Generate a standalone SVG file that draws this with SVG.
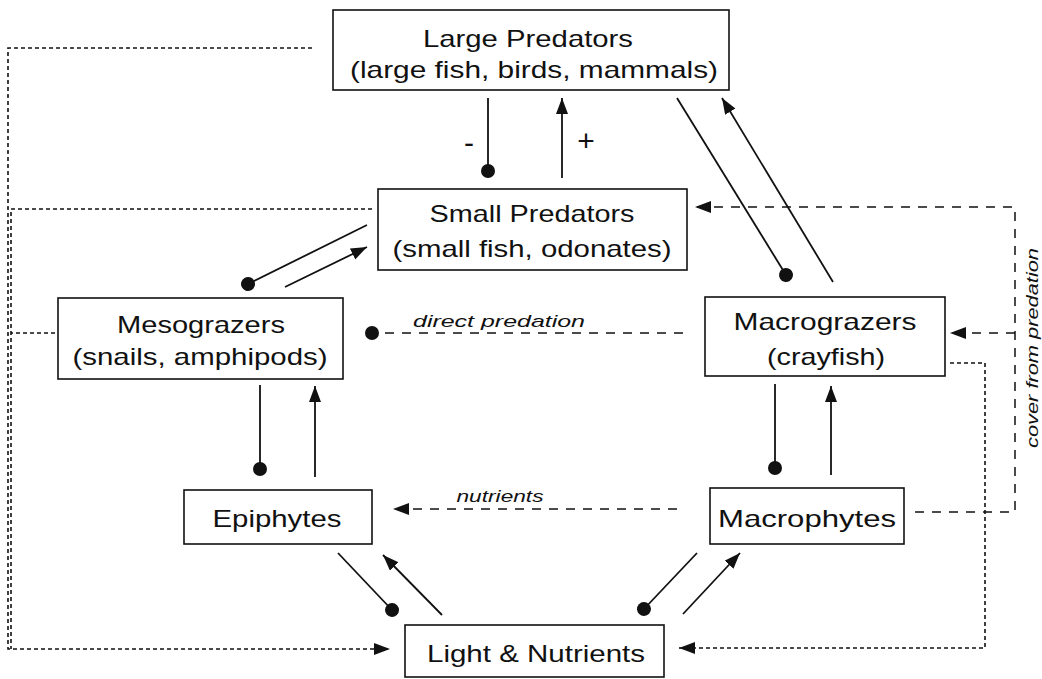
<svg xmlns="http://www.w3.org/2000/svg" width="1042" height="679" viewBox="0 0 1042 679">
<style>
.box{fill:#fff;stroke:#111;stroke-width:1.6}
.t{font-family:"Liberation Sans",Arial,sans-serif;font-size:24px;fill:#111;text-anchor:middle}
.pm{font-family:"Liberation Sans",Arial,sans-serif;font-size:30px;fill:#111;text-anchor:middle}
.it{font-family:"Liberation Sans",Arial,sans-serif;font-size:17px;font-style:italic;fill:#111;text-anchor:middle}
.s{fill:none;stroke:#111;stroke-width:1.8}
.d{fill:none;stroke:#111;stroke-width:1.5;stroke-dasharray:9 8}
.o{fill:none;stroke:#111;stroke-width:1.6;stroke-dasharray:4 3}
</style>
<defs>
<marker id="arr" markerUnits="userSpaceOnUse" markerWidth="18" markerHeight="14" refX="16" refY="6" orient="auto">
<path d="M0,0 L16,6 L0,12 Z" fill="#111"/>
</marker>
<marker id="dot" markerUnits="userSpaceOnUse" markerWidth="16" markerHeight="16" refX="8" refY="8" orient="auto">
<circle cx="8" cy="8" r="7" fill="#111"/>
</marker>
</defs>
<rect width="1042" height="679" fill="#fff"/>
<g id="connectors">
<line class="s" x1="488" y1="98" x2="488" y2="171" marker-end="url(#dot)"/>
<line class="s" x1="562" y1="178" x2="562" y2="98" marker-end="url(#arr)"/>
<line class="s" x1="677" y1="98" x2="786" y2="275" marker-end="url(#dot)"/>
<line class="s" x1="833" y1="282" x2="722" y2="98" marker-end="url(#arr)"/>
<line class="s" x1="367" y1="225" x2="248" y2="284" marker-end="url(#dot)"/>
<line class="s" x1="285" y1="287" x2="367" y2="247" marker-end="url(#arr)"/>
<line class="s" x1="260" y1="385" x2="260" y2="469" marker-end="url(#dot)"/>
<line class="s" x1="315" y1="477" x2="315" y2="386" marker-end="url(#arr)"/>
<line class="s" x1="775" y1="384" x2="775" y2="468" marker-end="url(#dot)"/>
<line class="s" x1="831" y1="475" x2="831" y2="386" marker-end="url(#arr)"/>
<line class="s" x1="338" y1="553" x2="392" y2="610" marker-end="url(#dot)"/>
<line class="s" x1="442" y1="615" x2="383" y2="555" marker-end="url(#arr)"/>
<line class="s" x1="697" y1="553" x2="644" y2="609" marker-end="url(#dot)"/>
<line class="s" x1="683" y1="614" x2="740" y2="553" marker-end="url(#arr)"/>
<line class="d" x1="683" y1="333" x2="372" y2="333" marker-end="url(#dot)"/>
<line class="d" x1="677" y1="509" x2="393" y2="509" marker-end="url(#arr)"/>
<path class="d" d="M915,512 H1015 V207 H695" marker-end="url(#arr)"/>
<path class="d" d="M1015,333 H950" marker-end="url(#arr)"/>
<path class="o" d="M312,48 H8 V649 H390" marker-end="url(#arr)"/>
<path class="o" d="M372,209 H11 V649"/>
<path class="o" d="M55,333 H11"/>
<path class="o" d="M950,363 H985 V648 H679" marker-end="url(#arr)"/>
<text class="pm" x="469" y="153">-</text>
<text class="pm" x="586" y="151">+</text>
<text class="it" x="499" y="327" textLength="172" lengthAdjust="spacingAndGlyphs">direct predation</text>
<text class="it" x="500" y="502" textLength="87" lengthAdjust="spacingAndGlyphs">nutrients</text>
<text class="it" x="0" y="0" transform="translate(1038,348) rotate(-90)" textLength="200" lengthAdjust="spacingAndGlyphs">cover from predation</text>
</g>
<g id="large-predators">
<rect class="box" x="333" y="10" width="396" height="80"/>
<text class="t" x="528" y="47" textLength="210" lengthAdjust="spacingAndGlyphs">Large Predators</text>
<text class="t" x="534" y="78" textLength="368" lengthAdjust="spacingAndGlyphs">(large fish, birds, mammals)</text>
</g>
<g id="small-predators">
<rect class="box" x="378" y="189" width="309" height="81"/>
<text class="t" x="532" y="222" textLength="205" lengthAdjust="spacingAndGlyphs">Small Predators</text>
<text class="t" x="532" y="257" textLength="279" lengthAdjust="spacingAndGlyphs">(small fish, odonates)</text>
</g>
<g id="mesograzers">
<rect class="box" x="58" y="298" width="285" height="81"/>
<text class="t" x="201" y="333" textLength="168" lengthAdjust="spacingAndGlyphs">Mesograzers</text>
<text class="t" x="200" y="365" textLength="255" lengthAdjust="spacingAndGlyphs">(snails, amphipods)</text>
</g>
<g id="macrograzers">
<rect class="box" x="705" y="297" width="240" height="79"/>
<text class="t" x="825" y="330" textLength="183" lengthAdjust="spacingAndGlyphs">Macrograzers</text>
<text class="t" x="826" y="365" textLength="118" lengthAdjust="spacingAndGlyphs">(crayfish)</text>
</g>
<g id="epiphytes">
<rect class="box" x="184" y="490" width="188" height="54"/>
<text class="t" x="277" y="527" textLength="129" lengthAdjust="spacingAndGlyphs">Epiphytes</text>
</g>
<g id="macrophytes">
<rect class="box" x="710" y="488" width="194" height="56"/>
<text class="t" x="807" y="527" textLength="178" lengthAdjust="spacingAndGlyphs">Macrophytes</text>
</g>
<g id="light-nutrients">
<rect class="box" x="405" y="625" width="259" height="52"/>
<text class="t" x="536" y="662" textLength="218" lengthAdjust="spacingAndGlyphs">Light &amp; Nutrients</text>
</g>
</svg>
